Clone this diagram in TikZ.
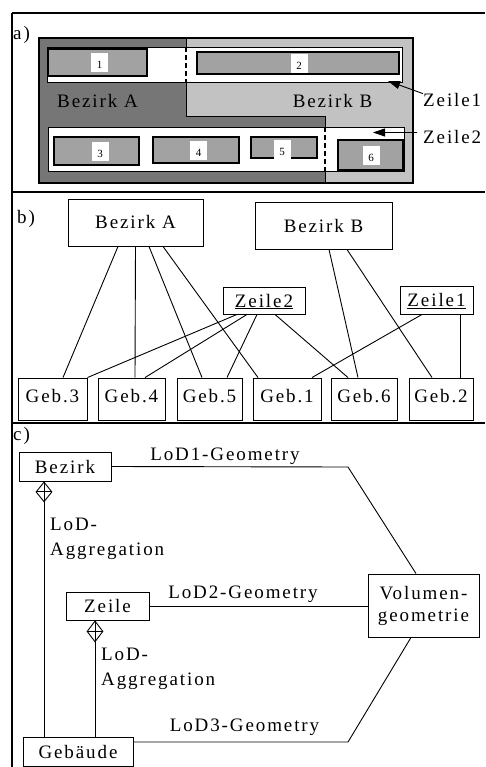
\documentclass[tikz,border=0pt]{standalone}
\usepackage{fontspec}
\setmainfont{Liberation Serif}[LetterSpace=10]
\usetikzlibrary{arrows.meta,shapes.geometric}
\definecolor{distA}{RGB}{118,118,118}
\definecolor{distB}{RGB}{194,194,194}
\definecolor{bldg}{RGB}{162,162,162}
\tikzset{
  txt/.style={font=\fontsize{19}{25}\selectfont, inner sep=0pt},
  box/.style={draw, line width=0.9pt, inner sep=0pt, font=\fontsize{19}{22}\selectfont,
              text height=13pt, text depth=0pt},
  gebbox/.style={box, minimum height=42pt, text depth=7pt},
  wire/.style={line width=0.9pt},
  frame/.style={line width=1.2pt},
  bldgbox/.style={draw, line width=1.2pt, fill=bldg},
  strip/.style={draw, line width=0.8pt, fill=white},
  split/.style={line width=1.5pt, dash pattern=on 5pt off 3pt},
  numbox/.style={fill=white, inner sep=0pt, minimum width=17pt, minimum height=19pt,
                 text height=12pt, text depth=0pt, font=\fontsize{11}{11}\selectfont},
  agg/.style={draw, diamond, fill=white, line width=0.9pt, inner sep=0pt,
              minimum width=16pt, minimum height=20pt, anchor=north},
  pointer/.style={wire, -{Triangle[length=12pt,width=8pt]}}
}
\begin{document}
\begin{tikzpicture}[x=1pt,y=-1pt]
\useasboundingbox (0,0) rectangle (485,767);

% ---------- frame ----------
\draw[frame] (12,13) -- (485,13);
\draw[frame] (12,13) -- (12,767);
\draw[line width=2pt] (12,192) -- (485,192);
\draw[line width=1.6pt] (12,423) -- (485,423);

\node[txt, anchor=base west] (pa) at (13,40) {a)};
\node[txt, anchor=base west] (pb) at (17,223) {b)};
\node[txt, anchor=base west] (pc) at (13,440) {c)};

% ---------- a) plan of the two districts ----------
\fill[distB] (39,38) rectangle (413,183);
\fill[distA] (39,38) -- (186,38) -- (186,117) -- (325,117) -- (325,183) -- (39,183) -- cycle;
\draw[line width=1pt] (186,38) -- (186,117) -- (325,117) -- (325,183);
\draw[line width=1.2pt] (39,38) rectangle (413,183);

% rows of buildings
\draw[strip] (47,47) rectangle (402,82);
\draw[strip] (48,127) rectangle (404,171);
\draw[split] (186,47) -- (186,82);
\draw[split] (325,127) -- (325,171);

% buildings
\draw[bldgbox] (48,49) rectangle (147,76);
\draw[bldgbox] (197,52) rectangle (399,74);
\draw[bldgbox] (54,137) rectangle (139,165);
\draw[bldgbox] (153,137) rectangle (239,163);
\draw[bldgbox] (251,137) rectangle (317,158);
\draw[bldgbox] (338,140) rectangle (403,170);

\node[numbox] (n1) at (99.5,63) {1};
\node[numbox] (n2) at (299,64) {2};
\node[numbox] (n3) at (100,152) {3};
\node[numbox] (n4) at (198.5,150.5) {4};
\node[numbox] (n5) at (282,149.5) {5};
\node[numbox] (n6) at (371,155.5) {6};

\node[txt, anchor=base] (lbA) at (97.5,108) {Bezirk A};
\node[txt, anchor=base] (lbB) at (332.5,108) {Bezirk B};

\node[txt, anchor=base west] (lz1) at (423,107) {Zeile1};
\node[txt, anchor=base west] (lz2) at (423,144) {Zeile2};
\coordinate (t1) at (388,81);
\coordinate (t2) at (373,132.5);
\draw[pointer] (lz1.north west) -- (t1);
\draw[pointer] ([xshift=-6pt,yshift=5pt]lz2.west) -- (t2);

% ---------- b) aggregation hierarchy ----------
\node[box, minimum width=135pt, minimum height=47pt] (bA) at (135.5,222.5) {Bezirk A};
\node[box, minimum width=137pt, minimum height=47pt] (bB) at (323.5,225.5) {Bezirk B};
\node[box, minimum width=82pt, minimum height=27pt] (bz2) at (264,300.5) {\underline{Zeile2}};
\node[box, minimum width=73pt, minimum height=28pt] (bz1) at (436.5,300) {\underline{Zeile1}};

\node[gebbox, minimum width=69pt] (g3) at (52.5,399) {Geb.3};
\node[gebbox, minimum width=67pt] (g4) at (131.5,399) {Geb.4};
\node[gebbox, minimum width=65pt] (g5) at (209.5,399) {Geb.5};
\node[gebbox, minimum width=68pt] (g1) at (287,399) {Geb.1};
\node[gebbox, minimum width=66pt] (g6) at (364,399) {Geb.6};
\node[gebbox, minimum width=64pt] (g2) at (441,399) {Geb.2};

\draw[wire] ([xshift=-17.5pt]bA.south) -- ([xshift=10.5pt]g3.north);
\draw[wire] (bA.south) -- ([xshift=3.5pt]g4.north);
\draw[wire] ([xshift=13.5pt]bA.south) -- ([xshift=-7.5pt]g5.north);
\draw[wire] ([xshift=27.5pt]bA.south) -- ([xshift=-29pt]g1.north);
\draw[wire] ([xshift=5.5pt]bB.south) -- ([xshift=-6pt]g6.north);
\draw[wire] ([xshift=23.5pt]bB.south) -- ([xshift=-9pt]g2.north);
\draw[wire] ([xshift=-27pt]bz2.south) -- (g3.north east);
\draw[wire] ([xshift=-17pt]bz2.south) -- ([xshift=13.5pt]g4.north);
\draw[wire] ([xshift=-7pt]bz2.south) -- ([xshift=17.5pt]g5.north);
\draw[wire] ([xshift=11pt]bz2.south) -- ([xshift=-16pt]g6.north);
\draw[wire] ([xshift=-14.5pt]bz1.south) -- ([xshift=25pt]g1.north);
\draw[wire] ([xshift=23.5pt]bz1.south) -- ([xshift=19pt]g2.north);

% ---------- c) data model ----------
\node[box, minimum width=92pt, minimum height=29pt] (bez) at (65,466.5) {Bezirk};
\node[box, minimum width=83pt, minimum height=28pt] (zei) at (107.5,606) {Zeile};
\node[box, minimum width=110pt, minimum height=29pt] (geb) at (78,751.5) {Gebäude};
\node[box, minimum width=111pt, minimum height=63pt, align=center, text height=, text depth=,
      font=\fontsize{19}{22}\selectfont] (vol) at (423.5,605.5) {Volumen-\\geometrie};

\coordinate (c1) at (348,467);
\coordinate (c3) at (348,742);
\draw[wire] (bez.east) -- (c1) -- ([xshift=-7.5pt]vol.north);
\draw[wire] (zei.east) -- (zei.east -| vol.west);
\draw[wire] ([yshift=9.5pt]geb.east) -- (c3) -- ([xshift=-12.5pt]vol.south);

\node[txt, anchor=base] (l1) at (225,460) {LoD1-Geometry};
\node[txt, anchor=base] (l2) at (243,598) {LoD2-Geometry};
\node[txt, anchor=base] (l3) at (244.5,731) {LoD3-Geometry};

\node[agg] (d1) at ([xshift=-21pt]bez.south) {};
\draw[wire] (d1.north) -- (d1.south) (d1.west) -- (d1.east);
\draw[wire] (d1.south) -- (d1.south |- geb.north);
\node[agg, minimum height=21pt] (d2) at ([xshift=-12.5pt]zei.south) {};
\draw[wire] (d2.north) -- (d2.south) (d2.west) -- (d2.east);
\draw[wire] (d2.south) -- (d2.south |- geb.north);

\node[txt, align=left, anchor=north west] (ag1) at (50,518) {LoD-\\Aggregation};
\node[txt, align=left, anchor=north west] (ag2) at (101,648) {LoD-\\Aggregation};
\end{tikzpicture}
\end{document}
